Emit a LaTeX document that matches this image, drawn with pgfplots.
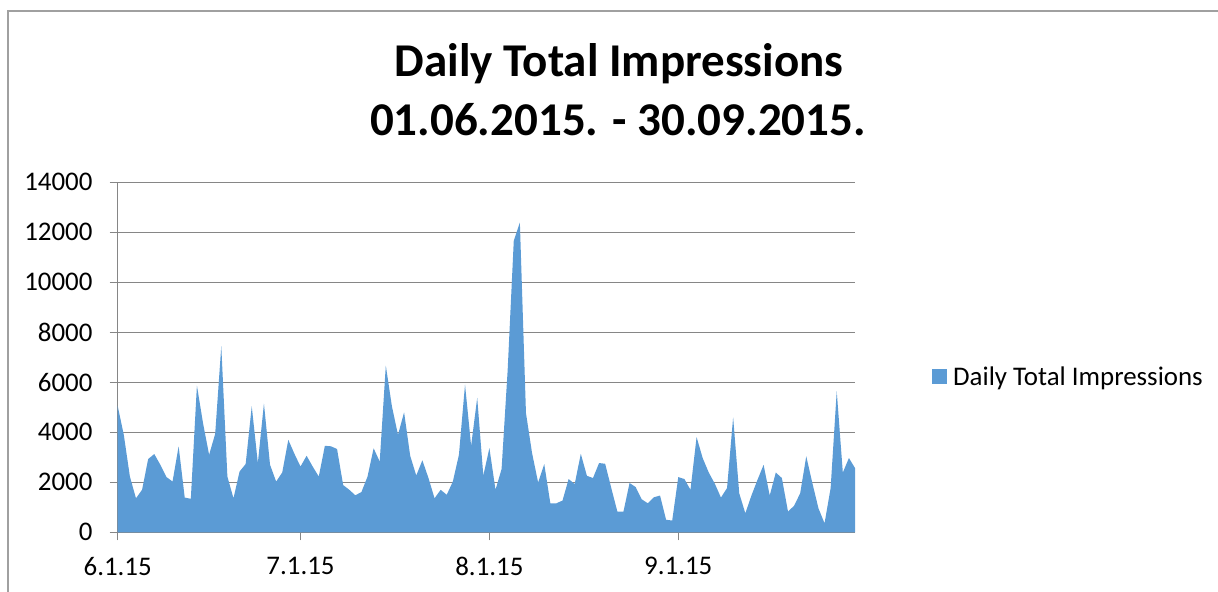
\documentclass[border=0pt]{standalone}
\usepackage{fontspec}
\setmainfont{Carlito}
\usepackage{pgfplots}
\pgfplotsset{compat=1.18}
\usepackage{pgfplotstable}

\definecolor{areablue}{RGB}{91,155,213}
\definecolor{gridgray}{RGB}{134,134,134}
\definecolor{framegray}{RGB}{160,160,160}

% day index (0 = 1 June 2015) and daily total impressions
\pgfplotstableread{
day val
0 5050
1 3900
2 2230
3 1360
4 1700
5 2930
6 3130
7 2700
8 2210
9 2030
10 3440
11 1390
12 1340
13 5870
14 4370
15 3100
16 3940
17 7450
18 2230
19 1360
20 2430
21 2730
22 5040
23 2770
24 5150
25 2700
26 2030
27 2390
28 3700
29 3140
30 2630
31 3060
32 2630
33 2230
34 3460
35 3440
36 3330
37 1890
38 1700
39 1480
40 1610
41 2230
42 3360
43 2830
44 6670
45 5040
46 3900
47 4800
48 3060
49 2270
50 2880
51 2170
52 1360
53 1700
54 1500
55 2030
56 3100
57 5910
58 3460
59 5380
60 2270
61 3370
62 1700
63 2530
64 6500
65 11660
66 12390
67 4770
68 3170
69 1990
70 2730
71 1160
72 1160
73 1270
74 2130
75 1930
76 3140
77 2260
78 2170
79 2770
80 2740
81 1770
82 830
83 830
84 1970
85 1810
86 1320
87 1160
88 1400
89 1470
90 500
91 470
92 2210
93 2130
94 1700
95 3810
96 2970
97 2390
98 1940
99 1390
100 1770
101 4600
102 1560
103 760
104 1470
105 2100
106 2700
107 1470
108 2390
109 2170
110 830
111 1060
112 1560
113 3040
114 1970
115 960
116 360
117 1770
118 5640
119 2390
120 2970
121 2570
}\impressions

\begin{document}
\begin{tikzpicture}[x=1bp,y=1bp]
\useasboundingbox (0,0) rectangle (1218,592);
\draw[framegray, line width=2bp] (7.7,0) -- (7.7,580.7) -- (1218,580.7);

\node[anchor=base, inner sep=0pt, font=\fontsize{47.2}{56}\selectfont\bfseries]
  at (619,515.3) {Daily Total Impressions};
\node[anchor=base, inner sep=0pt, font=\fontsize{47.2}{56}\selectfont\bfseries]
  at (618,456) {01.06.2015. - 30.09.2015.};

\begin{axis}[
  at={(117.7bp,59.7bp)}, anchor=south west,
  scale only axis, width=737.3bp, height=350bp,
  xmin=0, xmax=121, ymin=0, ymax=14000,
  axis x line*=bottom, axis y line*=left,
  axis line style={gridgray, line width=1bp},
  ymajorgrids, grid style={gridgray, line width=1bp},
  tick style={gridgray, line width=1bp},
  tick align=outside, major tick length=8bp,
  xtick={0,30,61,92},
  xticklabels={6.1.15,7.1.15,8.1.15,9.1.15},
  ytick={0,2000,...,14000},
  scaled y ticks=false,
  /pgf/number format/assume math mode=true,
  /pgf/number format/1000 sep={},
  ticklabel style={font=\fontsize{27}{31}\selectfont, text=black},
  yticklabel style={inner sep=0pt, xshift=-17bp},
  xticklabel style={inner sep=0pt, yshift=-17bp},
  legend style={at={(1.104,0.4446)}, anchor=west, draw=none, fill=none,
    inner sep=0pt, column sep=6.6bp,
    font=\fontsize{27}{31}\selectfont,
    nodes={inner sep=0pt}},
  legend image code/.code={\fill[areablue] (0bp,-7bp) rectangle (14.7bp,7.7bp);},
]
\addplot[fill=areablue, draw=none] table[x=day, y=val] {\impressions} \closedcycle;
\legend{Daily Total Impressions}
\end{axis}
\end{tikzpicture}
\end{document}
